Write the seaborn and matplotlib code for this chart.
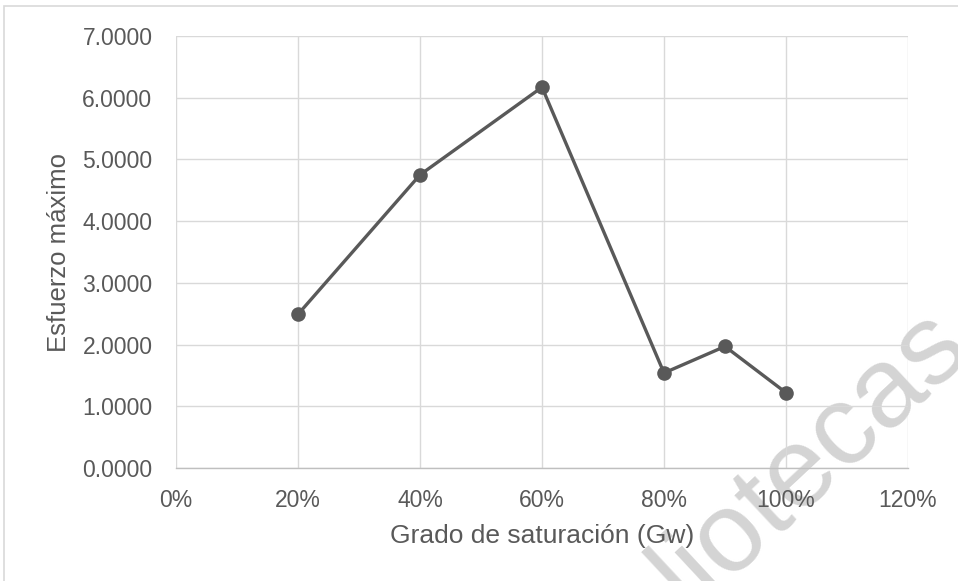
import matplotlib
matplotlib.use("Agg")
import matplotlib.pyplot as plt
from matplotlib.patches import Rectangle
from matplotlib.ticker import PercentFormatter, FormatStrFormatter, MultipleLocator
import seaborn as sns
import pandas as pd

# Degree of saturation vs. maximum stress
saturacion = [0.20, 0.40, 0.60, 0.80, 0.90, 1.00]
esfuerzo_max = [2.49, 4.75, 6.17, 1.54, 1.97, 1.22]

x_label = "Grado de saturación (Gw)"
y_label = "Esfuerzo máximo"

df = pd.DataFrame({"saturacion": saturacion, "esfuerzo": esfuerzo_max})

sns.set_style("white")
plt.rcParams["font.family"] = ["Liberation Sans", "DejaVu Sans"]

W, H = 958, 581
fig = plt.figure(figsize=(W / 100, H / 100), dpi=100)
fig.patch.set_facecolor("white")
ax = fig.add_axes([176 / W, 1 - 468 / H, (908 - 176) / W, (468 - 36) / H])
ax.set_facecolor("none")

ink = "#595959"
grid = "#d9d9d9"

sns.lineplot(data=df, x="saturacion", y="esfuerzo", ax=ax, color=ink,
             linewidth=2.4, marker="o", markersize=10.5,
             markeredgecolor=ink, markeredgewidth=0, sort=False)

ax.set_xlim(0, 1.2)
ax.set_ylim(0, 7)
ax.xaxis.set_major_locator(MultipleLocator(0.2))
ax.yaxis.set_major_locator(MultipleLocator(1))
ax.xaxis.set_major_formatter(PercentFormatter(xmax=1, decimals=0))
ax.yaxis.set_major_formatter(FormatStrFormatter("%.4f"))

ax.grid(True, color=grid, linewidth=1.0)
ax.set_axisbelow(True)
for side in ["top", "left", "right"]:
    ax.spines[side].set_visible(False)
ax.spines["bottom"].set_color("#bfbfbf")
ax.spines["bottom"].set_linewidth(1.0)

ax.tick_params(axis="x", length=0, pad=15, labelsize=16.5, labelcolor=ink)
ax.tick_params(axis="y", length=0, pad=17, labelsize=16.5, labelcolor=ink)

ax.set_xlabel(x_label, fontsize=19, color=ink, labelpad=9)
ax.set_ylabel(y_label, fontsize=18.5, color=ink, labelpad=8)

# chart area frame
fig.add_artist(Rectangle((4 / W, -0.05), 1.2, 1 - 6 / H + 0.05,
                         transform=fig.transFigure, fill=False,
                         edgecolor=grid, linewidth=1.2, zorder=-2))

# library watermark
fig.text(690 / W, 1 - 612 / H, "liotecas", fontsize=82, color="#d4d4d4",
         rotation=43, rotation_mode="anchor", ha="left", va="baseline",
         zorder=-1)

fig.savefig("out.png", dpi=100)
